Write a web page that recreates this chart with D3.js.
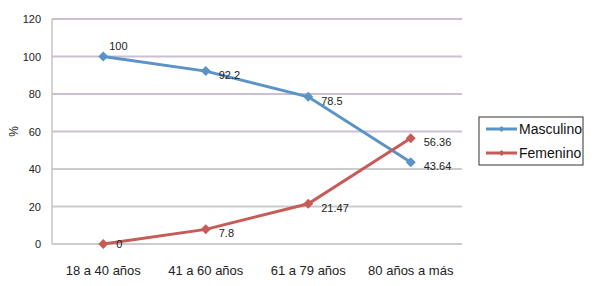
<!DOCTYPE html>
<html>
<head>
<meta charset="utf-8">
<script src="https://cdn.jsdelivr.net/npm/d3@7"></script>
<style>
  body { margin: 0; background: #fff; }
  svg { display: block; font-family: "Liberation Sans", Arial, sans-serif; }
</style>
</head>
<body>
<div id="chart"></div>
<script>
// datos
const categories = ["18 a 40 años", "41 a 60 años", "61 a 79 años", "80 años a más"];
const masculino = [100, 92.2, 78.5, 43.64];
const femenino = [0, 7.8, 21.47, 56.36];
const yTicks = [0, 20, 40, 60, 80, 100, 120];

const series = [
  { name: "Masculino", values: masculino, color: "#5b93c6" },
  { name: "Femenino", values: femenino, color: "#c65b58" }
];

const width = 601, height = 286;
const margin = { top: 19, right: 139, bottom: 42, left: 52 };
const innerWidth = width - margin.left - margin.right;
const innerHeight = height - margin.top - margin.bottom;

const svg = d3.select("#chart").append("svg")
  .attr("width", width)
  .attr("height", height);

const g = svg.append("g")
  .attr("transform", `translate(${margin.left},${margin.top})`);

const x = d3.scaleBand().domain(categories).range([0, innerWidth]);
const y = d3.scaleLinear().domain([0, 120]).range([innerHeight, 0]);

// líneas de cuadrícula
g.selectAll(".grid").data(yTicks).enter().append("line")
  .attr("x1", 0).attr("x2", innerWidth)
  .attr("y1", d => y(d)).attr("y2", d => y(d))
  .attr("stroke", d => d >= 60 ? "#cdbfd3" : "#cccccc")
  .attr("stroke-width", 2);

// eje y
g.append("line")
  .attr("x1", 0).attr("x2", 0)
  .attr("y1", 0).attr("y2", innerHeight)
  .attr("stroke", "#c4c4c4").attr("stroke-width", 1.5);

g.selectAll(".ytick").data(yTicks).enter().append("text")
  .attr("x", -11)
  .attr("y", d => y(d) + 4)
  .attr("text-anchor", "end")
  .attr("font-size", 11)
  .attr("fill", "#222")
  .text(d => d);

svg.append("text")
  .attr("transform", `translate(18,${margin.top + y(60)}) rotate(-90)`)
  .attr("text-anchor", "middle")
  .attr("font-size", 12)
  .attr("fill", "#222")
  .text("%");

// etiquetas x
g.selectAll(".xlab").data(categories).enter().append("text")
  .attr("x", d => x(d) + x.bandwidth() / 2)
  .attr("y", innerHeight + 31)
  .attr("text-anchor", "middle")
  .attr("font-size", 13)
  .attr("fill", "#222")
  .text(d => d);

const line = d3.line()
  .x((d, i) => x(categories[i]) + x.bandwidth() / 2)
  .y(d => y(d));

const diamond = d3.symbol().type(d3.symbolSquare).size(50);

series.forEach(s => {
  g.append("path")
    .datum(s.values)
    .attr("fill", "none")
    .attr("stroke", s.color)
    .attr("stroke-width", 3)
    .attr("d", line);

  s.values.forEach((v, i) => {
    const cx = x(categories[i]) + x.bandwidth() / 2;
    g.append("path")
      .attr("d", diamond)
      .attr("transform", `translate(${cx},${y(v)}) rotate(45)`)
      .attr("fill", s.color);

    // el 100 va arriba, el resto a la derecha
    const top = v === 100;
    g.append("text")
      .attr("x", cx + (top ? 6 : 13))
      .attr("y", y(v) + (top ? -7 : v === 0 ? 4 : 8))
      .attr("font-size", 11)
      .attr("fill", "#222")
      .text(v);
  });
});

// leyenda
const legend = svg.append("g").attr("transform", "translate(479,117)");
legend.append("rect")
  .attr("width", 104).attr("height", 48)
  .attr("fill", "#fff").attr("stroke", "#333").attr("stroke-width", 1);

series.forEach((s, i) => {
  const ly = 12 + i * 24;
  legend.append("line")
    .attr("x1", 7).attr("x2", 38)
    .attr("y1", ly).attr("y2", ly)
    .attr("stroke", s.color).attr("stroke-width", 3);
  legend.append("path")
    .attr("d", d3.symbol().type(d3.symbolSquare).size(18))
    .attr("transform", `translate(22.5,${ly}) rotate(45)`)
    .attr("fill", s.color);
  legend.append("text")
    .attr("x", 40).attr("y", ly + 5)
    .attr("font-size", 14)
    .attr("fill", "#111")
    .text(s.name);
});
</script>
</body>
</html>
